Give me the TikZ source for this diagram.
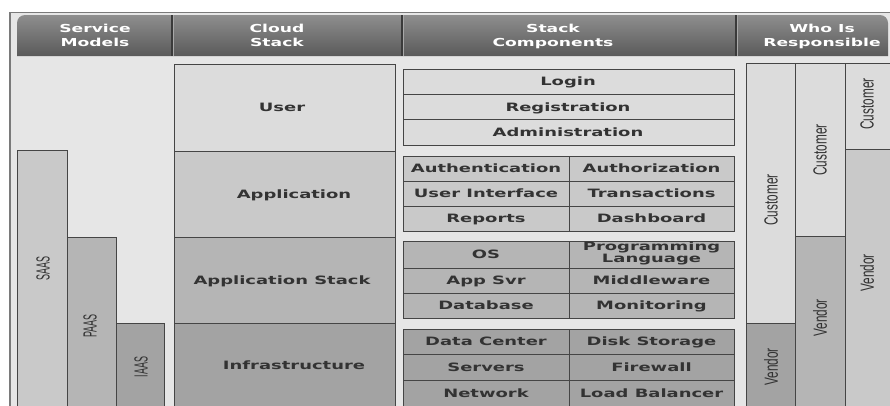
\documentclass[tikz,border=0pt]{standalone}
\usepackage{fontspec}
\usepackage{graphicx}
\setmainfont{DejaVu Sans}
\newfontfamily\narrowfont{Liberation Sans}

\definecolor{bodybg}{HTML}{E6E6E6}
\definecolor{frameline}{HTML}{7A7A7A}
\definecolor{toneA}{HTML}{DCDCDC}
\definecolor{toneB}{HTML}{C9C9C9}
\definecolor{toneC}{HTML}{B5B5B5}
\definecolor{toneD}{HTML}{A3A3A3}
\definecolor{edge}{HTML}{454545}
\definecolor{ink}{HTML}{333333}
\definecolor{hdtop}{HTML}{8E8E8E}
\definecolor{hdbot}{HTML}{5A5A5A}
\definecolor{hdsep}{HTML}{3A3A3A}
\definecolor{hdlight}{HTML}{A8A8A8}

% wide bold lettering and narrow rotated lettering
\newcommand{\widetext}[1]{\scalebox{1.56}[1]{#1}}
\newcommand{\narrowrot}[2][1.18]{\scalebox{#1}[1.9]{#2}}

\tikzset{
  cell/.style={draw=edge, line width=0.9pt},
  boxlabel/.style={text=ink, font=\bfseries\fontsize{11.5}{12}\selectfont,
    inner sep=0pt, text height=8.4pt, text depth=0pt},
  twolabel/.style={text=ink, font=\bfseries\fontsize{11.5}{11.5}\selectfont,
    inner sep=0pt},
  hdlabel/.style={text=white, font=\bfseries\fontsize{11}{14}\selectfont,
    inner sep=0pt},
  sidelabel/.style={text=ink, rotate=90, font=\narrowfont\fontsize{10}{12}\selectfont,
    inner sep=0pt},
}

\begin{document}
\begin{tikzpicture}[x=1pt,y=-1pt]
\useasboundingbox (0,0) rectangle (890,405);
\clip (0,0) rectangle (890,405);

% page and panel frame
\fill[white] (0,0) rectangle (890,405);
\fill[bodybg] (9,12) rectangle (900,410);
\draw[frameline, line width=0.8pt] (9,12) -- (900,12);
\draw[frameline, line width=2pt] (9.5,12) -- (9.5,410);

% header band
\shade[top color=hdtop, bottom color=hdbot]
  (17,56) [rounded corners=8pt] -- (17,15) -- (888,15) [sharp corners] -- (888,56) -- cycle;
\foreach \hx in {172,402,736}{
  \draw[hdsep, line width=1.4pt] (\hx,15) -- (\hx,56);
  \draw[hdlight, line width=0.6pt] (\hx+1.3,15) -- (\hx+1.3,56);
}
\node[hdlabel] (hsm) at (95,37) {\widetext{\begin{tabular}{@{}c@{}}Service\\Models\end{tabular}}};
\node[hdlabel] (hcs) at (277,37) {\widetext{\begin{tabular}{@{}c@{}}Cloud\\Stack\end{tabular}}};
\node[hdlabel] (hsc) at (553,37) {\widetext{\begin{tabular}{@{}c@{}}Stack\\Components\end{tabular}}};
\node[hdlabel] (hwr) at (822,37) {\widetext{\begin{tabular}{@{}c@{}}Who Is\\Responsible\end{tabular}}};

% service models
\filldraw[cell, fill=toneB] (17,150) rectangle (67,410);
\filldraw[cell, fill=toneC] (67,237) rectangle (116,410);
\filldraw[cell, fill=toneD] (116,323) rectangle (164,410);
\node[sidelabel] (saas) at (43,268) {\narrowrot[0.9]{SAAS}};
\node[sidelabel] (paas) at (90,326) {\narrowrot[0.9]{PAAS}};
\node[sidelabel] (iaas) at (141,367) {\narrowrot[0.9]{IAAS}};

% cloud stack layers
\filldraw[cell, fill=toneA] (174,64) rectangle (395,151);
\filldraw[cell, fill=toneB] (174,151) rectangle (395,237);
\filldraw[cell, fill=toneC] (174,237) rectangle (395,323);
\filldraw[cell, fill=toneD] (174,323) rectangle (395,410);
\node[boxlabel] (user) at (282,107.5) {\widetext{User}};
\node[boxlabel] (appl) at (294,194) {\widetext{Application}};
\node[boxlabel] (apst) at (282,280) {\widetext{Application Stack}};
\node[boxlabel] (infr) at (294,365) {\widetext{Infrastructure}};

% stack components: user layer
\filldraw[cell, fill=toneA] (403,69) rectangle (734,94);
\filldraw[cell, fill=toneA] (403,94) rectangle (734,119.5);
\filldraw[cell, fill=toneA] (403,119.5) rectangle (734,145);
\node[boxlabel] (login) at (568,81.5) {\widetext{Login}};
\node[boxlabel] (regi) at (568,107) {\widetext{Registration}};
\node[boxlabel] (admi) at (568,132.5) {\widetext{Administration}};

% stack components: application layer
\foreach \ya/\yb in {156/181,181/206,206/231}{
  \filldraw[cell, fill=toneB] (403,\ya) rectangle (569,\yb);
  \filldraw[cell, fill=toneB] (569,\ya) rectangle (734,\yb);
}
\node[boxlabel] (authn) at (486,168.5) {\widetext{Authentication}};
\node[boxlabel] (authz) at (651.5,168.5) {\widetext{Authorization}};
\node[boxlabel] (uint) at (486,193.5) {\widetext{User Interface}};
\node[boxlabel] (trans) at (651.5,193.5) {\widetext{Transactions}};
\node[boxlabel] (repo) at (486,218.5) {\widetext{Reports}};
\node[boxlabel] (dash) at (651.5,218.5) {\widetext{Dashboard}};

% stack components: application stack layer
\foreach \ya/\yb in {241/268,268/293,293/318}{
  \filldraw[cell, fill=toneC] (403,\ya) rectangle (569,\yb);
  \filldraw[cell, fill=toneC] (569,\ya) rectangle (734,\yb);
}
\node[boxlabel] (os) at (486,254.5) {\widetext{OS}};
\node[twolabel] (prog) at (651.5,254) {\widetext{\begin{tabular}{@{}c@{}}Programming\\Language\end{tabular}}};
\node[boxlabel] (asvr) at (486,280.5) {\widetext{App Svr}};
\node[boxlabel] (midw) at (651.5,280.5) {\widetext{Middleware}};
\node[boxlabel] (dbase) at (486,305.5) {\widetext{Database}};
\node[boxlabel] (moni) at (651.5,305.5) {\widetext{Monitoring}};

% stack components: infrastructure layer
\foreach \ya/\yb in {329/354,354/380,380/406}{
  \filldraw[cell, fill=toneD] (403,\ya) rectangle (569,\yb);
  \filldraw[cell, fill=toneD] (569,\ya) rectangle (734,\yb);
}
\node[boxlabel] (dcen) at (486,341.5) {\widetext{Data Center}};
\node[boxlabel] (disk) at (651.5,341.5) {\widetext{Disk Storage}};
\node[boxlabel] (serv) at (486,367) {\widetext{Servers}};
\node[boxlabel] (firew) at (651.5,367) {\widetext{Firewall}};
\node[boxlabel] (netw) at (486,393) {\widetext{Network}};
\node[boxlabel] (lbal) at (651.5,393) {\widetext{Load Balancer}};

% responsibility columns
\filldraw[cell, fill=toneA] (746,63) rectangle (795,323);
\filldraw[cell, fill=toneD] (746,323) rectangle (795,410);
\filldraw[cell, fill=toneA] (795,63) rectangle (845,236);
\filldraw[cell, fill=toneC] (795,236) rectangle (845,410);
\filldraw[cell, fill=toneA] (845,63) rectangle (900,149);
\filldraw[cell, fill=toneB] (845,149) rectangle (900,410);
\node[sidelabel] (cus1) at (771,200) {\narrowrot{Customer}};
\node[sidelabel] (ven1) at (771,367) {\narrowrot{Vendor}};
\node[sidelabel] (cus2) at (820,150) {\narrowrot{Customer}};
\node[sidelabel] (ven2) at (820,318) {\narrowrot{Vendor}};
\node[sidelabel] (cus3) at (867,104) {\narrowrot{Customer}};
\node[sidelabel] (ven3) at (867,273) {\narrowrot{Vendor}};
\end{tikzpicture}
\end{document}
